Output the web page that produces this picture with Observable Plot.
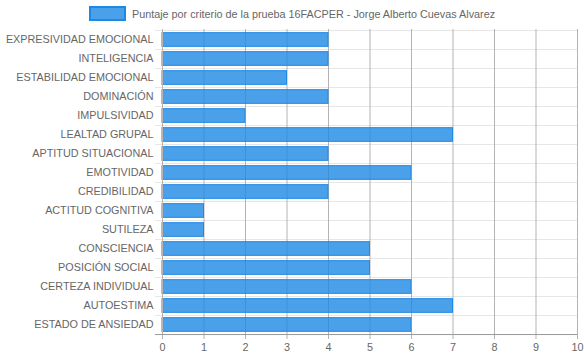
<!DOCTYPE html>
<html><head><meta charset="utf-8">
<script src="https://cdn.jsdelivr.net/npm/d3@7"></script>
<script src="https://cdn.jsdelivr.net/npm/@observablehq/plot@0.6"></script>
<style>
body{margin:0;background:#fff;font-family:"Liberation Sans",Arial,sans-serif;}
#wrap{width:584px;height:359px;position:relative;}
#legend{height:27px;display:flex;align-items:center;justify-content:center;font-size:10.8px;color:#666;}
#legend .box{width:33px;height:11px;background:rgba(30,136,229,0.8);border:2px solid #1e88e5;margin-right:6px;box-sizing:content-box;}
</style></head>
<body><div id="wrap"><div id="legend"></div><div id="chart"></div></div>
<script>
const seriesName = "Puntaje por criterio de la prueba 16FACPER - Jorge Alberto Cuevas Alvarez";
const categories = ["EXPRESIVIDAD EMOCIONAL","INTELIGENCIA","ESTABILIDAD EMOCIONAL","DOMINACIÓN","IMPULSIVIDAD","LEALTAD GRUPAL","APTITUD SITUACIONAL","EMOTIVIDAD","CREDIBILIDAD","ACTITUD COGNITIVA","SUTILEZA","CONSCIENCIA","POSICIÓN SOCIAL","CERTEZA INDIVIDUAL","AUTOESTIMA","ESTADO DE ANSIEDAD"];
const values = [4,4,3,4,2,7,4,6,4,1,1,5,5,6,7,6];
const xTicks = [0,1,2,3,4,5,6,7,8,9,10];

const data = categories.map((c,i)=>({cat:c, v:values[i]}));

const legend = document.getElementById("legend");
legend.innerHTML = `<div class="box"></div><span>${seriesName}</span>`;

const W = 584, H = 332, mT = 2, mB = 25, mL = 162, mR = 7;
const step = (H - mT - mB) / categories.length;

const chart = Plot.plot({
  width: W, height: H,
  marginTop: mT, marginBottom: mB, marginLeft: mL, marginRight: mR,
  style: {fontFamily: '"Liberation Sans", Arial, sans-serif', fontSize: "10.8px", color: "#666", background: "#fff"},
  x: {domain: [0,10], ticks: xTicks, label: null},
  y: {domain: categories, padding: 0, label: null},
  marks: [
    Plot.ruleY(categories, {y: d=>d, dy: -step/2, stroke: "#e6e6e6", insetLeft: -7}),
    Plot.ruleY([categories[categories.length-1]], {y: d=>d, dy: step/2, stroke: "#e6e6e6", insetLeft: -7}),
    Plot.ruleX(xTicks.slice(1), {x: d=>d, stroke: "#b3b3b3", insetBottom: -5}),
    Plot.barX(data, {y: "cat", x: "v", fill: "#1e88e5", fillOpacity: 0.8, stroke: "#1e88e5", strokeWidth: 1, insetTop: step*0.14, insetBottom: step*0.14}),
    Plot.ruleX([0], {stroke: "#b3b3b3", insetBottom: -5}),
    Plot.ruleY([0], {y: ()=>categories[categories.length-1], dy: step/2, stroke: "#999", insetLeft: -7}),
    Plot.axisX({ticks: xTicks, tickSize: 0, tickPadding: 9, fill: "#666", tickFormat: d=>d, label: null}),
    Plot.axisY({tickSize: 0, tickPadding: 9, fill: "#666", label: null})
  ]
});
document.getElementById("chart").appendChild(chart);
</script>
</body></html>
